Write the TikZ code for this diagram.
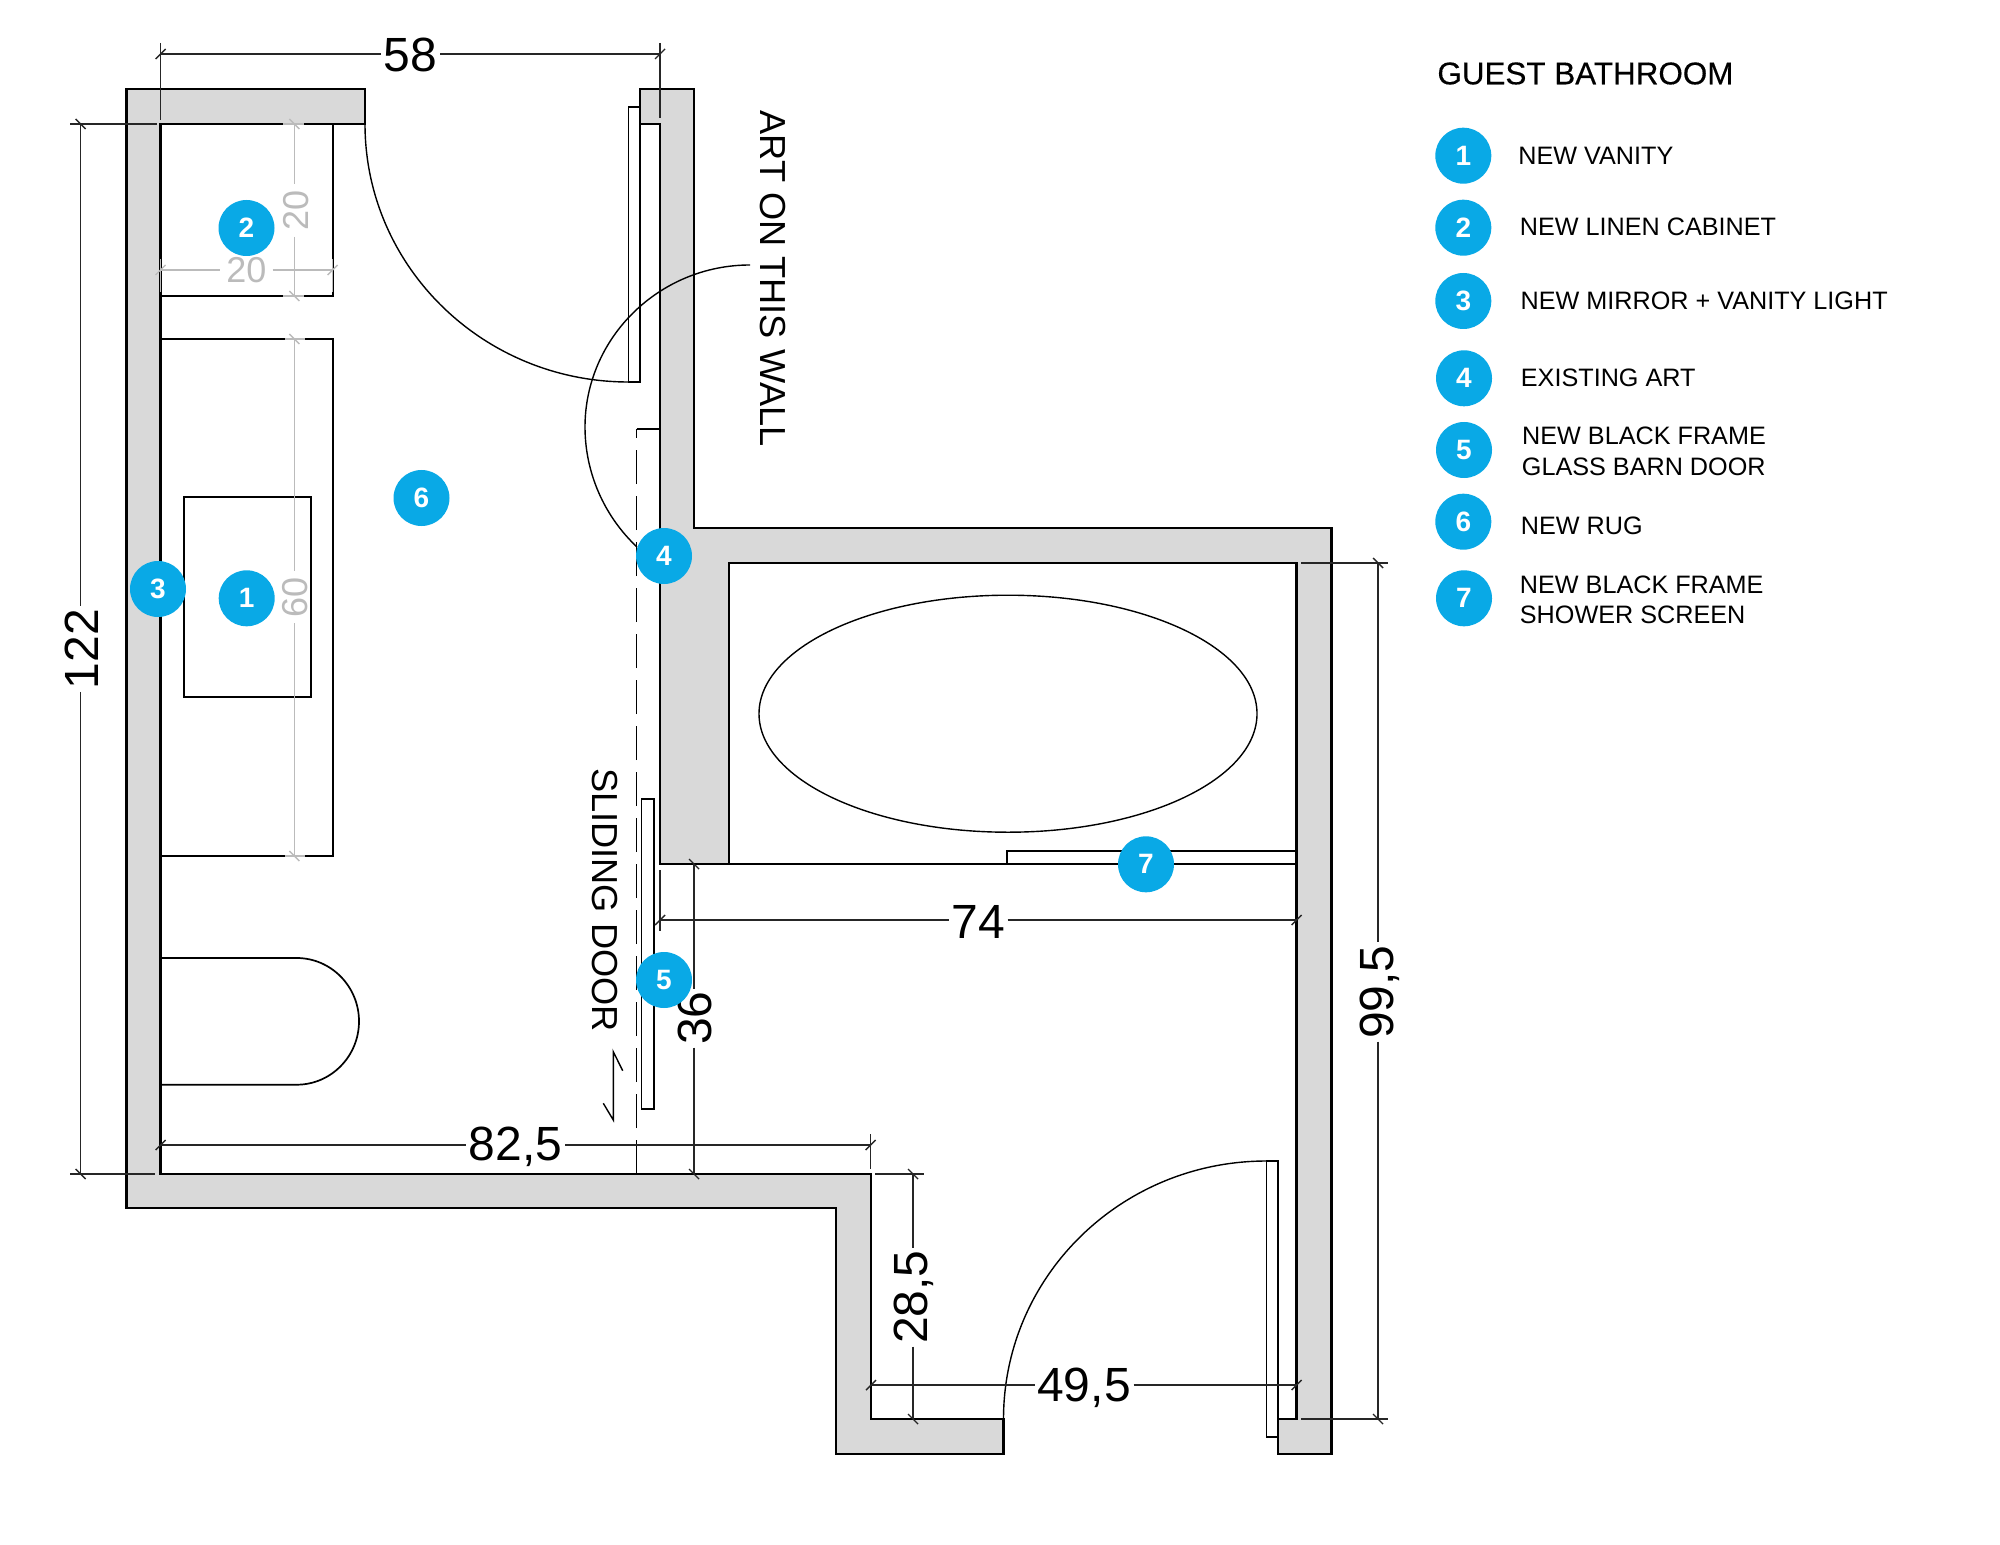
\documentclass[tikz,border=0pt]{standalone}
\usepackage{fontspec}
\setmainfont{Liberation Sans}
\newfontfamily\titlefont[FakeBold=0.35]{Liberation Sans}
\definecolor{wallgrey}{HTML}{D9D9D9}
\definecolor{badgeblue}{HTML}{09A9E6}
\definecolor{dimgrey}{HTML}{BBBBBB}
\tikzset{
  wall/.style={draw=black,fill=wallgrey,line width=1.35pt,line join=miter},
  fixture/.style={draw=black,line width=0.85pt},
  thinpart/.style={draw=black,line width=0.7pt},
  dimline/.style={draw=black!85,line width=0.7pt},
  greyline/.style={draw=dimgrey,line width=0.7pt},
  dimtxt/.style={font=\fontsize{24}{24}\selectfont,text height=17.5pt,text depth=0pt,inner sep=1.2pt,text=black},
  greytxt/.style={font=\fontsize{18}{18}\selectfont,text height=13pt,text depth=0pt,inner sep=3pt,text=dimgrey},
  sidetxt/.style={font=\fontsize{18.1}{18.1}\selectfont,text height=13pt,text depth=0pt,inner sep=0pt,text=black},
  legtxt/.style={font=\fontsize{12.6}{12.6}\selectfont,anchor=base west,inner sep=0pt,text=black},
  legtitle/.style={font=\titlefont\fontsize{15.7}{15.7}\selectfont,anchor=base west,inner sep=0pt,text=black},
  badge/.style={circle,fill=badgeblue,draw=none,minimum size=28pt,inner sep=0pt,text=white,font=\fontsize{14}{14}\bfseries\selectfont},
}
\newcommand{\tickH}[3][dimline]{\draw[#1,shift={(#2,#3)}] (-5,5)--(5,-5);}
\newcommand{\tickV}[3][dimline]{\draw[#1,shift={(#2,#3)}] (-5,-5)--(5,5);}
\begin{document}
\begin{tikzpicture}[x=0.5pt,y=-0.5pt]
\useasboundingbox (0,0) rectangle (2000,1545);
\fill[white] (0,0) rectangle (2000,1545);

% fixtures
\draw[fixture] (160.5,124) rectangle (332.7,296);
\draw[fixture] (160.5,339) rectangle (332.7,856);
\draw[fixture] (184.3,497.3) rectangle (311.3,697.3);
\draw[fixture] (160.5,958) -- (296.7,958) .. controls (331,958) and (359,986.4) .. (359,1021.3) .. controls (359,1056.3) and (331,1084.7) .. (296.7,1084.7) -- (160.5,1084.7);
\draw[thinpart] (1008,713.7) ellipse [x radius=249,y radius=118.5];
\draw[thinpart,line width=0.85pt] (729,864) -- (1296.7,864);
\draw[thinpart,line width=0.85pt] (1006.7,864) -- (1006.7,851) -- (1296.7,851);

% doors
\draw[thinpart] (628.6,107) rectangle (640,382);
\draw[thinpart] (1266.5,1161) rectangle (1278,1437);
\draw[thinpart] (641.7,799) rectangle (654,1109);
\draw[thinpart] (365,124) .. controls (365,266.5) and (483,382) .. (628.6,382);
\draw[thinpart] (1003.5,1419) .. controls (1003.5,1276.5) and (1121,1161) .. (1266.5,1161);

% sliding door path
\draw[thinpart,line width=0.6pt,dash pattern=on 17pt off 6pt] (636.7,1174) -- (636.7,429) ;
\draw[thinpart,line width=0.6pt] (636.7,429) -- (660,429);
\draw[thinpart] (622.7,1070.7) -- (613.3,1051.7) -- (613.3,1120) -- (603.3,1103.3);

% walls
\draw[wall] (126.5,89) -- (365,89) -- (365,124) -- (160.5,124) -- (160.5,1174) -- (871,1174) -- (871,1419) -- (1003.5,1419) -- (1003.5,1454) -- (836,1454) -- (836,1208) -- (126.5,1208) -- cycle;
\draw[wall] (640,89) -- (694,89) -- (694,528) -- (1331.5,528) -- (1331.5,1454) -- (1278,1454) -- (1278,1419) -- (1296.7,1419) -- (1296.7,563) -- (729,563) -- (729,864) -- (660,864) -- (660,124) -- (640,124) -- cycle;

% grey dimensions
\node[greytxt,rotate=90] (g20v) at (295,210.5) {20};
\coordinate (g20vT) at (294.4,124);
\coordinate (g20vB) at (294.4,296);
\draw[greyline] (g20vT) -- (g20vT|-g20v.east);
\draw[greyline] (g20vT|-g20v.west) -- (g20vB);
\draw[greyline] (283,124) -- (304,124);
\draw[greyline] (283,296) -- (304,296);
\tickV[greyline]{294.4}{124}
\tickV[greyline]{294.4}{296}
\node[greytxt] (g20h) at (246.3,270) {20};
\coordinate (g20hL) at (160.5,270);
\coordinate (g20hR) at (332.7,270);
\draw[greyline] (g20hL) -- (g20h);
\draw[greyline] (g20h) -- (g20hR);
\draw[greyline] (160.5,259) -- (160.5,292);
\draw[greyline] (332.7,259) -- (332.7,292);
\tickH[greyline]{160.5}{270}
\tickH[greyline]{332.7}{270}
\node[greytxt,rotate=90] (g60) at (294.4,597) {60};
\coordinate (g60T) at (294.4,339);
\coordinate (g60B) at (294.4,856);
\draw[greyline] (g60T) -- (g60);
\draw[greyline] (g60) -- (g60B);
\draw[greyline] (285,339) -- (305,339);
\draw[greyline] (285,856) -- (305,856);
\tickV[greyline]{294.4}{339}
\tickV[greyline]{294.4}{856}

% black dimensions
\node[dimtxt] (d58) at (410.6,54) {58};
\coordinate (d58L) at (160.6,54);
\coordinate (d58R) at (660,54);
\draw[dimline] (d58L) -- (d58);
\draw[dimline] (d58) -- (d58R);
\draw[dimline] (160.6,43) -- (160.6,120);
\draw[dimline] (660,43) -- (660,118);
\tickH{160.6}{54}
\tickH{660}{54}

\node[dimtxt,rotate=90] (d122) at (80.7,649) {122};
\coordinate (d122T) at (80.7,124);
\coordinate (d122B) at (80.7,1174);
\draw[dimline] (d122T) -- (d122);
\draw[dimline] (d122) -- (d122B);
\draw[dimline] (70,124) -- (157,124);
\draw[dimline] (70,1174) -- (155,1174);
\tickV{80.7}{124}
\tickV{80.7}{1174}

\node[dimtxt] (d825) at (515.5,1142.5) {82,5};
\coordinate (d825L) at (160.6,1145);
\coordinate (d825R) at (870.7,1145);
\draw[dimline] (d825L) -- (d825.west|-d825L);
\draw[dimline] (d825.east|-d825R) -- (d825R);
\draw[dimline] (870.7,1134) -- (870.7,1169);
\tickH{160.6}{1145}
\tickH{870.7}{1145}

\node[dimtxt] (d74) at (978,921) {74};
\coordinate (d74L) at (660,920);
\coordinate (d74R) at (1296.7,920);
\draw[dimline] (d74L) -- (d74.west|-d74L);
\draw[dimline] (d74.east|-d74R) -- (d74R);
\draw[dimline] (660,870) -- (660,931);
\tickH{660}{920}
\tickH{1296.7}{920}

\node[dimtxt,rotate=90] (d36) at (694,1018) {36};
\coordinate (d36T) at (694,864);
\coordinate (d36B) at (694,1174);
\draw[dimline] (d36T) -- (d36);
\draw[dimline] (d36) -- (d36B);
\tickV{694}{864}
\tickV{694}{1174}

\node[dimtxt,rotate=90] (d285) at (909.5,1297) {28,5};
\coordinate (d285T) at (913,1174);
\coordinate (d285B) at (913,1419);
\draw[dimline] (d285T) -- (d285T|-d285.east);
\draw[dimline] (d285B|-d285.west) -- (d285B);
\draw[dimline] (875,1174) -- (924,1174);
\tickV{913}{1174}
\tickV{913}{1419}

\node[dimtxt] (d495) at (1084,1384) {49,5};
\coordinate (d495L) at (871,1385);
\coordinate (d495R) at (1296.7,1385);
\draw[dimline] (d495L) -- (d495.west|-d495L);
\draw[dimline] (d495.east|-d495R) -- (d495R);
\tickH{871}{1385}
\tickH{1296.7}{1385}

\node[dimtxt,rotate=90] (d995) at (1376,992) {99,5};
\coordinate (d995T) at (1378,563);
\coordinate (d995B) at (1378,1419);
\draw[dimline] (d995T) -- (d995T|-d995.east);
\draw[dimline] (d995B|-d995.west) -- (d995B);
\draw[dimline] (1301,563) -- (1388,563);
\draw[dimline] (1301,1419) -- (1388,1419);
\tickV{1378}{563}
\tickV{1378}{1419}

% side notes
\node[sidetxt,rotate=-90] (artnote) at (773,278.5) {ART ON THIS WALL};
\node[sidetxt,rotate=-90] (slidenote) at (605,900) {SLIDING DOOR};
\coordinate (leadstart) at (750,265);
\coordinate (leadend) at (637,547);
\draw[thinpart] (leadstart) .. controls (659,265) and (585,338) .. (585,427) .. controls (585,472.5) and (604,516) .. (leadend);

% plan badges
\node[badge] (p1) at (246.7,598.3) {1};
\node[badge] (p2) at (246.5,228) {2};
\node[badge] (p3) at (158,589) {3};
\node[badge] (p4) at (664,556) {4};
\node[badge] (p5) at (664,980) {5};
\node[badge] (p6) at (421.5,498) {6};
\node[badge] (p7) at (1146,864.3) {7};

% legend
\node[legtitle] (ltitle) at (1437,84.3) {GUEST BATHROOM};
\node[badge] (l1) at (1463.3,155.7) {1};
\node[badge] (l2) at (1463.3,227.7) {2};
\node[badge] (l3) at (1463.3,301) {3};
\node[badge] (l4) at (1464,378.3) {4};
\node[badge] (l5) at (1464,450) {5};
\node[badge] (l6) at (1463.3,521.7) {6};
\node[badge] (l7) at (1464,598.3) {7};
\node[legtxt] (t1) at (1518,165) {NEW VANITY};
\node[legtxt] (t2) at (1519.5,236) {NEW LINEN CABINET};
\node[legtxt] (t3) at (1520.2,309.3) {NEW MIRROR + VANITY LIGHT};
\node[legtxt] (t4) at (1520.5,386.7) {EXISTING ART};
\node[legtxt] (t5a) at (1521.8,444.7) {NEW BLACK FRAME};
\node[legtxt] (t5b) at (1521.5,475) {GLASS BARN DOOR};
\node[legtxt] (t6) at (1520.5,534) {NEW RUG};
\node[legtxt] (t7a) at (1519.5,593) {NEW BLACK FRAME};
\node[legtxt] (t7b) at (1519.5,623.3) {SHOWER SCREEN};
\end{tikzpicture}
\end{document}
